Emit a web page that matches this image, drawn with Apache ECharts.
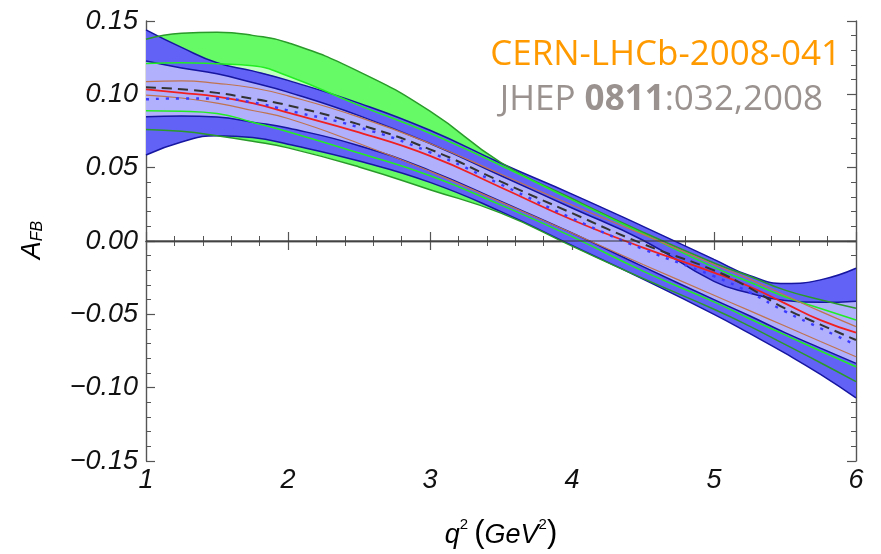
<!DOCTYPE html>
<html>
<head>
<meta charset="utf-8">
<script src="https://cdn.jsdelivr.net/npm/echarts@6/dist/echarts.min.js"></script>
<style>
html,body{margin:0;padding:0;background:#fff;}
#c{width:881px;height:554px;}
</style>
</head>
<body>
<div id="c"></div>
<script>
// q^2 sample positions (GeV^2)
const q = [1, 1.25, 1.5, 1.75, 2, 2.5, 3, 3.5, 4, 4.5, 5, 5.25, 5.5, 5.75, 6];

// outer blue band
const blueOuterUp = [0.144, 0.132, 0.1215, 0.116, 0.1095, 0.094, 0.0755, 0.053, 0.032, 0.0100, -0.0125, -0.0235, -0.029, -0.0265, -0.0186];
const blueOuterLo = [0.0586, 0.0675, 0.0718, 0.0705, 0.066, 0.0545, 0.040, 0.020, -0.003, -0.026, -0.050, -0.063, -0.0765, -0.091, -0.107];
// inner (light) blue band
const blueInnerUp = [0.1227, 0.118, 0.114, 0.108, 0.1015, 0.0855, 0.0665, 0.0445, 0.0225, 0.0005, -0.0275, -0.0355, -0.0405, -0.0418, -0.041];
const blueInnerLo = [0.0848, 0.0852, 0.0845, 0.081, 0.077, 0.065, 0.048, 0.027, 0.0055, -0.0175, -0.040, -0.051, -0.0625, -0.073, -0.0834];
// outer green band
const greenOuterUp = [0.1375, 0.1416, 0.1423, 0.1402, 0.1352, 0.1155, 0.0885, 0.0535, 0.0290, 0.0060, -0.0150, -0.024, -0.0335, -0.040, -0.0459];
const greenOuterLo = [0.0761, 0.0748, 0.0718, 0.068, 0.0635, 0.0505, 0.035, 0.019, -0.0035, -0.0255, -0.0465, -0.058, -0.0705, -0.083, -0.0959];
// inner green band
const greenInnerUp = [0.121, 0.1215, 0.1208, 0.1195, 0.1125, 0.0925, 0.0735, 0.0515, 0.028, 0.005, -0.018, -0.028, -0.038, -0.046, -0.0539];
const greenInnerLo = [0.0888, 0.0885, 0.087, 0.081, 0.0745, 0.060, 0.0445, 0.0245, 0.003, -0.0205, -0.0415, -0.053, -0.064, -0.075, -0.0857];
// brown curves
const brownUp = [0.1086, 0.1092, 0.1075, 0.1045, 0.099, 0.0845, 0.0665, 0.0455, 0.0245, 0.0045, -0.016, -0.026, -0.037, -0.048, -0.0584];
const brownLo = [0.0995, 0.0975, 0.094, 0.089, 0.0835, 0.0665, 0.0475, 0.0265, 0.0055, -0.0160, -0.037, -0.0475, -0.058, -0.0685, -0.0789];
// central curves
const redLine = [0.1034, 0.101, 0.0985, 0.094, 0.0875, 0.074, 0.058, 0.0365, 0.0145, -0.0045, -0.0215, -0.031, -0.0425, -0.054, -0.0625];
const dashedLine = [0.1048, 0.1035, 0.101, 0.097, 0.0925, 0.0795, 0.0625, 0.0405, 0.019, -0.002, -0.020, -0.032, -0.046, -0.057, -0.0675];
const dottedLine = [0.0966, 0.0972, 0.0972, 0.0945, 0.089, 0.0775, 0.0605, 0.0385, 0.0155, -0.0055, -0.024, -0.035, -0.048, -0.0595, -0.0709];

// tick labels
const xTicks = [1, 2, 3, 4, 5, 6];
const xTickLabels = ['1', '2', '3', '4', '5', '6'];
const yTicks = [-0.15, -0.10, -0.05, 0, 0.05, 0.10, 0.15];
const yTickLabels = ['\u22120.15', '\u22120.10', '\u22120.05', '0.00', '0.05', '0.10', '0.15'];

const pts = arr => q.map((x, i) => [x, arr[i]]);

// band: lower edge + (upper - lower) stacked on the y dimension (column 0 = y, column 1 = x)
function band(id, lo, hi, color) {
  return [
    { type: 'line', data: q.map((x, i) => [lo[i], x]), encode: { x: 1, y: 0 },
      stack: id, stackStrategy: 'all', symbol: 'none', smooth: true,
      lineStyle: { opacity: 0 }, silent: true },
    { type: 'line', data: q.map((x, i) => [hi[i] - lo[i], x]), encode: { x: 1, y: 0 },
      stack: id, stackStrategy: 'all', symbol: 'none', smooth: true,
      lineStyle: { opacity: 0 }, areaStyle: { color: color, opacity: 1 }, silent: true }
  ];
}
function curve(arr, color, width, type, cap) {
  return { type: 'line', data: pts(arr), symbol: 'none', smooth: true, silent: true,
    lineStyle: { color: color, width: width, type: type || 'solid', cap: cap || 'butt' } };
}

const tickFont = { fontFamily: 'Liberation Sans', fontStyle: 'italic', fontSize: 27, color: '#111' };

const axisCommon = {
  type: 'value',
  axisLine: { show: true, lineStyle: { color: '#555', width: 1.4 } },
  axisTick: { show: true, inside: true, length: 9, lineStyle: { color: '#555', width: 1.2 } },
  minorTick: { show: true, splitNumber: 5, length: 5, lineStyle: { color: '#555', width: 1 } },
  splitLine: { show: false },
  minorSplitLine: { show: false }
};

const chart = echarts.init(document.getElementById('c'));
chart.setOption({
  animation: false,
  backgroundColor: '#fff',
  grid: { left: 146, right: 25, top: 21, bottom: 93, containLabel: false },
  xAxis: [
    Object.assign({}, axisCommon, { position: 'bottom', min: 1, max: 6, interval: 1,
      axisLabel: Object.assign({}, tickFont, { margin: 6,
        formatter: v => { const i = xTicks.indexOf(Math.round(v)); return i >= 0 ? xTickLabels[i] : ''; } }) }),
    Object.assign({}, axisCommon, { position: 'top', min: 1, max: 6, interval: 1, axisLabel: { show: false } })
  ],
  yAxis: [
    Object.assign({}, axisCommon, { position: 'left', min: -0.15, max: 0.15, interval: 0.05,
      axisLabel: Object.assign({}, tickFont, { margin: 8,
        formatter: v => { const i = yTicks.findIndex(t => Math.abs(t - v) < 1e-6); return i >= 0 ? yTickLabels[i] : ''; } }) }),
    Object.assign({}, axisCommon, { position: 'right', min: -0.15, max: 0.15, interval: 0.05, axisLabel: { show: false } })
  ],
  series: [].concat(
    band('go', greenOuterLo, greenOuterUp, '#66fb66'),
    band('gi', greenInnerLo, greenInnerUp, '#c2ffc2'),
    band('bo', blueOuterLo, blueOuterUp, '#6262f6'),
    band('bi', blueInnerLo, blueInnerUp, '#b0b0fd'),
    [
      curve(blueOuterUp, '#1616a0', 1.5),
      curve(blueOuterLo, '#1616a0', 1.5),
      curve(blueInnerUp, '#1616a0', 1.5),
      curve(blueInnerLo, '#1616a0', 1.5),
      curve(greenOuterUp, '#2a9a2a', 1.5),
      curve(greenOuterLo, '#2a9a2a', 1.5),
      curve(greenInnerUp, '#22ee22', 1.5),
      curve(greenInnerLo, '#22ee22', 1.5),
      curve(brownUp, '#c0734e', 1.2),
      curve(brownLo, '#c0734e', 1.2),
      curve(redLine, '#f02020', 1.8),
      curve(dashedLine, '#333333', 2, [10, 6]),
      curve(dottedLine, '#3a3aff', 2.4, [3, 7]),
      { type: 'line', data: [[1, 0], [6, 0]], symbol: 'none', silent: true,
        lineStyle: { color: '#333', width: 1.1 } }
    ]
  ),
  graphic: [
    { type: 'text', right: 40, top: 38, z: 100, silent: true,
      style: { text: 'CERN-LHCb-2008-041', fontFamily: 'Open Sans', fontSize: 35, fill: '#ff9a00' } },
    { type: 'text', right: 58, top: 83, z: 100, silent: true,
      style: { text: '{a|JHEP }{b|0811}{a|:032,2008}',
        rich: { a: { fontFamily: 'Open Sans', fontSize: 35, fill: '#9a928f', color: '#9a928f' },
                b: { fontFamily: 'Open Sans', fontSize: 35, fontWeight: 'bold', fill: '#9a928f', color: '#9a928f' } } } },
    { type: 'text', x: 31, y: 240, rotation: Math.PI / 2, z: 100, silent: true,
      style: { text: '{a|A}{s|FB}', align: 'center', verticalAlign: 'middle',
        rich: { a: { fontFamily: 'Liberation Sans', fontStyle: 'italic', fontSize: 27, color: '#111', lineHeight: 30, verticalAlign: 'bottom' },
                s: { fontFamily: 'Liberation Sans', fontStyle: 'italic', fontSize: 16, color: '#111', lineHeight: 30, verticalAlign: 'bottom' } } } },
    { type: 'text', x: 501, y: 533, z: 100, silent: true,
      style: { text: '{i|q}{p|2}{n|\u2009(}{i|GeV}{p|2}{n|)}', align: 'center', verticalAlign: 'middle',
        rich: { i: { fontFamily: 'Liberation Sans', fontStyle: 'italic', fontSize: 27, color: '#111', lineHeight: 32, verticalAlign: 'bottom' },
                p: { fontFamily: 'Liberation Sans', fontSize: 15, color: '#111', lineHeight: 32, verticalAlign: 'top' },
                n: { fontFamily: 'Liberation Sans', fontSize: 31, color: '#111', lineHeight: 32, verticalAlign: 'bottom' } } } }
  ]
});
</script>
</body>
</html>
